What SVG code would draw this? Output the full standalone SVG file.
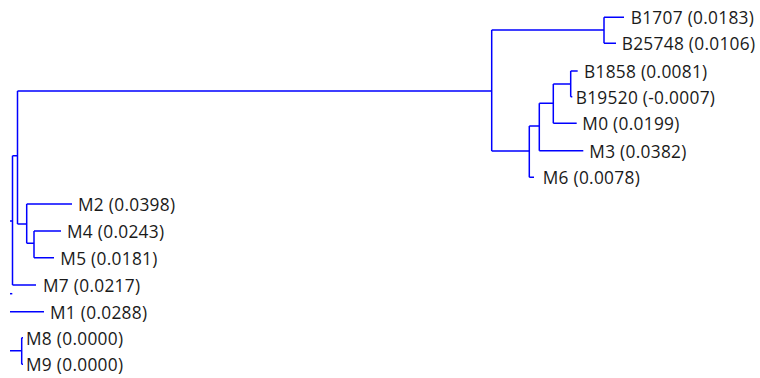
<svg xmlns="http://www.w3.org/2000/svg" width="760" height="378" viewBox="0 0 760 378">
  <style>
    .br { fill: none; stroke: #0000ff; stroke-width: 1.5; stroke-linecap: butt; }
    .lbl { font-family: "Open Sans", "Noto Sans", sans-serif; font-size: 17.3px; letter-spacing: 0.3px; fill: #1a1a1a; }
  </style>
  <rect width="760" height="378" fill="#ffffff"/>

  <!-- branches of the tree -->
  <g id="connectors" class="br">
    <!-- root stub and main split -->
    <path d="M10,221 H12.5 M12.5,155.7 V285 M12.5,155.7 H17.5 M12.5,285 H36"/>
    <path d="M17.5,91 V224 M17.5,91 H491.7 M17.5,224 H26.7"/>
    <!-- M2 / M4 / M5 clade -->
    <path d="M26.7,204 V243.3 M26.7,204 H72 M26.7,243.3 H34"/>
    <path d="M34,231 V257.7 M34,231 H61 M34,257.7 H54"/>
    <!-- stray stubs -->
    <path d="M10,293.7 H12.3"/>
    <path d="M10,311.7 H44"/>
    <path d="M10,350.7 H21.7 M21.7,337.7 V364.3 M21.7,337.7 H23 M21.7,364.3 H23"/>
    <!-- B clade -->
    <path d="M491.7,30 V151 M491.7,30 H604 M491.7,151 H529.3"/>
    <path d="M604,17.3 V43.3 M604,17.3 H624 M604,43.3 H616"/>
    <path d="M529.3,126 V177.3 M529.3,126 H539.3 M529.3,177.3 H534"/>
    <path d="M539.3,103.3 V150.7 M539.3,103.3 H553.3 M539.3,150.7 H583.3"/>
    <path d="M553.3,84 V123.3 M553.3,84 H570.7 M553.3,123.3 H576.7"/>
    <path d="M570.7,71 V96.7 M570.7,71 H577.7 M570.7,96.7 H572.3"/>
  </g>

  <!-- leaves -->
  <g id="B1707"><text class="lbl" x="630.7" y="24.3">B1707 (0.0183)</text></g>
  <g id="B25748"><text class="lbl" x="621.7" y="50.3">B25748 (0.0106)</text></g>
  <g id="B1858"><text class="lbl" x="584" y="78">B1858 (0.0081)</text></g>
  <g id="B19520"><text class="lbl" x="575.7" y="103.7">B19520 (-0.0007)</text></g>
  <g id="M0"><text class="lbl" x="582.3" y="130.3">M0 (0.0199)</text></g>
  <g id="M3"><text class="lbl" x="589.3" y="157.7">M3 (0.0382)</text></g>
  <g id="M6"><text class="lbl" x="542.7" y="184.3">M6 (0.0078)</text></g>
  <g id="M2"><text class="lbl" x="78" y="211.3">M2 (0.0398)</text></g>
  <g id="M4"><text class="lbl" x="67" y="238.3">M4 (0.0243)</text></g>
  <g id="M5"><text class="lbl" x="60.3" y="264.7">M5 (0.0181)</text></g>
  <g id="M7"><text class="lbl" x="43" y="292">M7 (0.0217)</text></g>
  <g id="M1"><text class="lbl" x="50" y="318.7">M1 (0.0288)</text></g>
  <g id="M8"><text class="lbl" x="26" y="344.7">M8 (0.0000)</text></g>
  <g id="M9"><text class="lbl" x="26" y="371.3">M9 (0.0000)</text></g>
</svg>
